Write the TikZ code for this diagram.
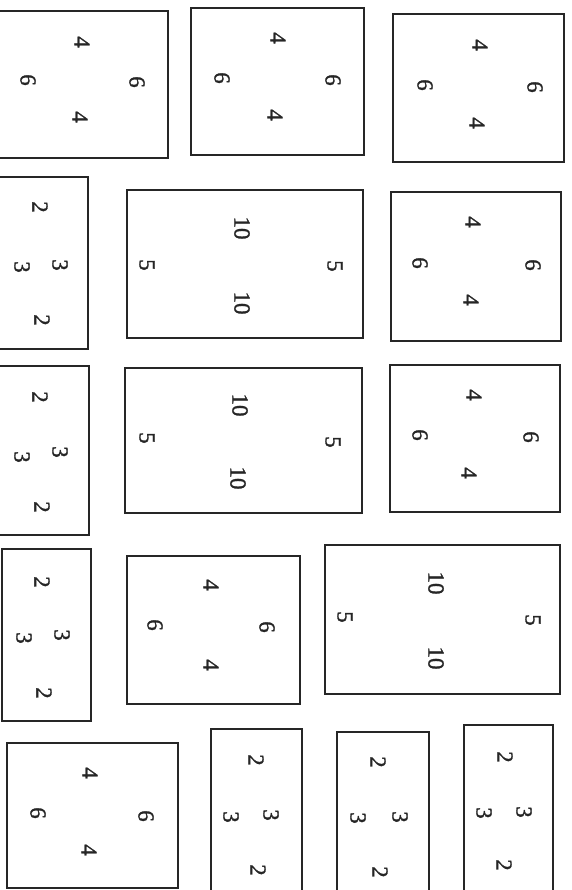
\documentclass[tikz,border=0pt]{standalone}
\usepackage{fontspec}
\setmainfont{Liberation Serif}
\newfontfamily\scanfont[FakeBold=1.2]{Liberation Serif}
\begin{document}
\begin{tikzpicture}[x=1pt,y=-1pt,
  box/.style={draw=black!85, line width=2pt},
  lab/.style={rotate=-90, font=\scanfont\fontsize{23}{23}\selectfont, inner sep=0pt, text=black!85}]
\useasboundingbox[fill=white] (0,0) rectangle (571,890);
\begin{scope}
\clip (0,0) rectangle (571,890);
% Row 1
\draw[box] (-2,11) rectangle (168,158);
\node[lab] (b1t) at (82,42) {4};
\node[lab] (b1l) at (28,80) {6};
\node[lab] (b1r) at (137,82) {6};
\node[lab] (b1b) at (80,117) {4};
\draw[box] (191,8) rectangle (364,155);
\node[lab] (b2t) at (278,38) {4};
\node[lab] (b2l) at (222,78) {6};
\node[lab] (b2r) at (333,80) {6};
\node[lab] (b2b) at (275,115) {4};
\draw[box] (393,14) rectangle (564,162);
\node[lab] (b3t) at (480,45) {4};
\node[lab] (b3l) at (425,85) {6};
\node[lab] (b3r) at (535,87) {6};
\node[lab] (b3b) at (477,123) {4};
% Row 2
\draw[box] (-2,177) rectangle (88,349);
\node[lab] (b4t) at (40,207) {2};
\node[lab] (b4l) at (22,267) {3};
\node[lab] (b4r) at (60,265) {3};
\node[lab] (b4b) at (42,320) {2};
\draw[box] (127,190) rectangle (363,338);
\node[lab] (b5t) at (242,228) {10};
\node[lab] (b5l) at (147,265) {5};
\node[lab] (b5r) at (335,266) {5};
\node[lab] (b5b) at (242,303) {10};
\draw[box] (391,192) rectangle (561,341);
\node[lab] (b6t) at (473,222) {4};
\node[lab] (b6l) at (420,263) {6};
\node[lab] (b6r) at (533,265) {6};
\node[lab] (b6b) at (471,300) {4};
% Row 3
\draw[box] (-2,366) rectangle (89,535);
\node[lab] (b7t) at (40,397) {2};
\node[lab] (b7l) at (22,457) {3};
\node[lab] (b7r) at (60,452) {3};
\node[lab] (b7b) at (42,507) {2};
\draw[box] (125,368) rectangle (362,513);
\node[lab] (b8t) at (240,405) {10};
\node[lab] (b8l) at (147,438) {5};
\node[lab] (b8r) at (333,442) {5};
\node[lab] (b8b) at (238,478) {10};
\draw[box] (390,365) rectangle (560,512);
\node[lab] (b9t) at (474,395) {4};
\node[lab] (b9l) at (420,435) {6};
\node[lab] (b9r) at (531,437) {6};
\node[lab] (b9b) at (469,473) {4};
% Row 4
\draw[box] (2,549) rectangle (91,721);
\node[lab] (b10t) at (42,582) {2};
\node[lab] (b10l) at (24,638) {3};
\node[lab] (b10r) at (62,635) {3};
\node[lab] (b10b) at (44,693) {2};
\draw[box] (127,556) rectangle (300,704);
\node[lab] (b11t) at (211,585) {4};
\node[lab] (b11l) at (155,625) {6};
\node[lab] (b11r) at (267,627) {6};
\node[lab] (b11b) at (211,665) {4};
\draw[box] (325,545) rectangle (560,694);
\node[lab] (b12t) at (436,583) {10};
\node[lab] (b12l) at (345,617) {5};
\node[lab] (b12r) at (533,620) {5};
\node[lab] (b12b) at (436,658) {10};
% Row 5
\draw[box] (7,743) rectangle (178,888);
\node[lab] (b13t) at (90,773) {4};
\node[lab] (b13l) at (38,813) {6};
\node[lab] (b13r) at (146,816) {6};
\node[lab] (b13b) at (89,850) {4};
\draw[box] (211,729) rectangle (302,896);
\node[lab] (b14t) at (256,760) {2};
\node[lab] (b14l) at (231,817) {3};
\node[lab] (b14r) at (271,815) {3};
\node[lab] (b14b) at (258,870) {2};
\draw[box] (337,732) rectangle (429,896);
\node[lab] (b15t) at (378,762) {2};
\node[lab] (b15l) at (358,818) {3};
\node[lab] (b15r) at (400,817) {3};
\node[lab] (b15b) at (380,872) {2};
\draw[box] (464,725) rectangle (553,896);
\node[lab] (b16t) at (505,757) {2};
\node[lab] (b16l) at (484,813) {3};
\node[lab] (b16r) at (524,812) {3};
\node[lab] (b16b) at (504,865) {2};
\end{scope}
\end{tikzpicture}
\end{document}
